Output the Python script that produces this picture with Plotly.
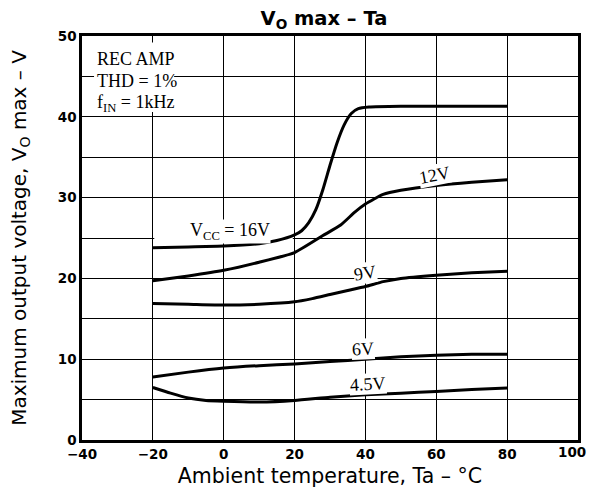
import plotly.graph_objects as go

# ---- data ----
t_16 = [-20, -10, 0, 10, 15, 20, 22, 24, 26, 28, 30, 32, 34, 36, 38, 41, 50, 60, 70, 80]
v_16 = [23.8, 23.9, 24.0, 24.3, 24.7, 25.4, 25.9, 26.9, 28.5, 31.0, 34.0, 36.8, 39.0, 40.4, 41.0, 41.2, 41.3, 41.3, 41.3, 41.3]

t_12 = [-20, -10, 0, 10, 20, 28, 33, 37, 40, 45, 50, 60, 70, 80]
v_12 = [19.7, 20.3, 21.0, 22.0, 23.2, 25.3, 26.6, 28.2, 29.2, 30.4, 30.9, 31.5, 31.9, 32.2]

t_9 = [-20, -10, 0, 10, 20, 25, 30, 35, 40, 45, 50, 60, 70, 80]
v_9 = [16.9, 16.8, 16.7, 16.8, 17.1, 17.5, 18.0, 18.5, 19.0, 19.6, 20.0, 20.4, 20.7, 20.9]

t_6 = [-20, -10, 0, 10, 20, 30, 40, 50, 60, 70, 80]
v_6 = [7.8, 8.4, 8.9, 9.2, 9.4, 9.7, 10.0, 10.3, 10.5, 10.6, 10.6]

t_45 = [-20, -15, -10, -5, 0, 10, 20, 30, 40, 50, 60, 70, 80]
v_45 = [6.5, 5.8, 5.2, 4.9, 4.8, 4.7, 4.9, 5.3, 5.6, 5.8, 6.0, 6.25, 6.45]

x_ticks = [-40, -20, 0, 20, 40, 60, 80, 100]
x_ticktext = ["−40", "−20", "0", "20", "40", "60", "80", "100"]
y_ticks = [0, 10, 20, 30, 40, 50]

curve_labels = ["V<sub>CC</sub> = 16V", "12V", "9V", "6V", "4.5V"]
label_t = [1.8, 59.6, 39.9, 39.3, 40.7]
label_v = [25.8, 32.8, 20.7, 11.3, 6.9]
label_angle = [0, -11, -9, -3, -3]

cond_lines = ["REC AMP", "THD = 1%", "f<sub>IN</sub> = 1kHz"]
cond_v = [47.1, 44.45, 41.7]

series = [(t_16, v_16), (t_12, v_12), (t_9, v_9), (t_6, v_6), (t_45, v_45)]

fig = go.Figure()
for t, v in series:
    fig.add_trace(go.Scatter(x=t, y=v, mode="lines",
                             line=dict(color="black", width=3, shape="spline", smoothing=0.5),
                             showlegend=False, hoverinfo="skip"))

serif = "Liberation Serif, Times New Roman, serif"
sans = "DejaVu Sans, Verdana, sans-serif"
tickfont = dict(family=sans, size=13.5, weight="bold", color="black")

for txt, tx, vy, ang in zip(curve_labels, label_t, label_v, label_angle):
    fig.add_annotation(x=tx, y=vy, text=txt, showarrow=False, textangle=ang,
                       font=dict(family=serif, size=18, color="black"),
                       bgcolor="white", borderpad=0)

# white patches that hide grid lines where the reference leaves them out
fig.add_shape(type="rect", x0=-36.6, x1=-14.0, y0=40.6, y1=49.2, layer="between",
              line=dict(width=0), fillcolor="white")
fig.add_shape(type="rect", x0=-19.6, x1=19.5, y0=24.5, y1=25.5, layer="between",
              line=dict(width=0), fillcolor="white")
for txt, vy in zip(cond_lines, cond_v):
    fig.add_annotation(x=-36.4, y=vy, xanchor="left", yanchor="middle", text=txt,
                       showarrow=False, font=dict(family=serif, size=18, color="black"))

# last x tick label sits at the right page edge: drawn right-aligned so it is not clipped
fig.add_annotation(x=x_ticks[-1], y=y_ticks[0], text=x_ticktext[-1], showarrow=False,
                   xanchor="right", yanchor="middle", xshift=10, yshift=-12, font=tickfont)

fig.update_layout(
    width=589, height=488,
    margin=dict(l=82, r=11, t=36, b=48),
    paper_bgcolor="white", plot_bgcolor="white",
    title=dict(text="<b>V<sub>O</sub> max – Ta</b>", x=0.55, xanchor="center",
               y=0.963, yanchor="middle", yref="container",
               font=dict(family=sans, size=19.5, color="black")),
    font=dict(family=sans, color="black"),
)

fig.update_xaxes(range=[-40, 100], tickvals=x_ticks[:-1], ticktext=x_ticktext[:-1],
                 showgrid=True, gridcolor="black", gridwidth=1.2,
                 showline=True, linecolor="black", linewidth=2.5, mirror=True, zeroline=False,
                 ticks="", automargin=False, tickfont=tickfont,
                 title=dict(text="Ambient temperature, Ta – °C", standoff=10,
                            font=dict(family=sans, size=20.5)))
fig.update_yaxes(range=[0, 50], tickvals=y_ticks, showgrid=True, gridcolor="black", gridwidth=1.2,
                 minor=dict(dtick=5, tick0=0, showgrid=True, gridcolor="black", gridwidth=1.2),
                 showline=True, linecolor="black", linewidth=2.5, mirror=True, zeroline=False,
                 ticks="", automargin=False, tickfont=tickfont,
                 title=dict(text="Maximum output voltage, V<sub>O</sub> max – V", standoff=26,
                            font=dict(family=sans, size=20)))

# remove the page's default body margin / scrollbars so the 589x488 figure fills the window
fig.write_html("out.html",
               config={"displayModeBar": False},
               post_script="document.body.style.margin='0';"
                           "document.documentElement.style.overflow='hidden';"
                           "document.body.style.overflow='hidden';")
